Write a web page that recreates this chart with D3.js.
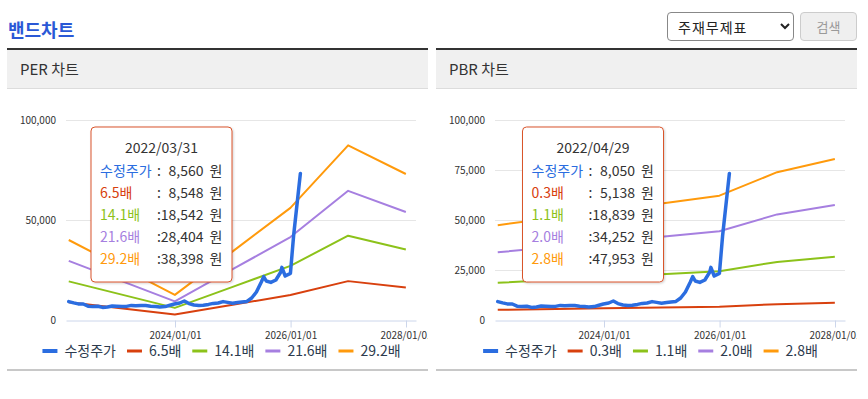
<!DOCTYPE html>
<html>
<head>
<meta charset="utf-8">
<script src="https://cdn.jsdelivr.net/npm/d3@7"></script>
<style>
  body { margin: 0; background: #fff; font-family: "Noto Sans CJK KR", sans-serif; }
  #wrap { position: relative; width: 868px; height: 399px; overflow: hidden; }
  #chart { position: absolute; left: 0; top: 0; }
  select {
    position: absolute; left: 667px; top: 12px; width: 127px; height: 29px;
    border: 1px solid #888; border-radius: 4px; background: #fff;
    font-family: "Noto Sans CJK KR", sans-serif; font-size: 14px; color: #222; padding-left: 6px;
    letter-spacing: 1px;
  }
  button {
    position: absolute; left: 800px; top: 12px; width: 57px; height: 29px;
    border: 1px solid #ccc; border-radius: 4px; background: #efefef;
    font-family: "Noto Sans CJK KR", sans-serif; font-size: 13px; color: #999;
  }
</style>
</head>
<body>
<div id="wrap">
  <svg id="chart" width="868" height="399"></svg>
  <select><option>주재무제표</option></select>
  <button disabled>검색</button>
</div>
<script>
// 수정주가 (same price series in both charts)
var priceDates = ["2022-02-28","2022-03-31","2022-04-29","2022-05-31","2022-06-30","2022-07-29","2022-08-31",
  "2022-09-30","2022-10-31","2022-11-30","2022-12-29","2023-01-31","2023-02-28","2023-03-31","2023-04-28",
  "2023-05-31","2023-06-30","2023-07-31","2023-08-31","2023-09-27","2023-10-31","2023-11-30","2023-12-28",
  "2024-01-31","2024-02-29","2024-03-29","2024-04-30","2024-05-31","2024-06-28","2024-07-31","2024-08-30",
  "2024-09-30","2024-10-31","2024-11-29","2024-12-30","2025-01-31","2025-02-28","2025-03-31","2025-04-30",
  "2025-05-30","2025-06-30","2025-07-15","2025-07-31","2025-08-29","2025-09-30","2025-10-31","2025-11-07",
  "2025-11-28","2025-12-31","2026-01-20","2026-03-04"];
var priceValues = [9200,8560,8050,8000,6900,6700,6900,
  6300,6500,7000,6900,6700,6800,7300,7100,
  7300,7200,6900,6700,6500,6700,7400,8000,
  8500,9500,8200,7500,7300,7400,7800,8300,
  8500,9200,8800,8400,8700,9000,9300,11000,
  14000,19000,21700,19500,18800,20000,24000,26300,
  22000,23300,42000,73300];

// band dates (yearly estimates)
var bandDates = ["2022-02-28","2023-12-31","2024-12-31","2025-12-31","2026-12-31","2027-12-31"];

// PER bands
var perNames = ["6.5배","14.1배","21.6배","29.2배"];
var per6_5  = [8905, 2795, 7640, 12480, 19435, 16250];
var per14_1 = [19317, 6060, 16570, 27070, 42160, 35250];
var per21_6 = [29592, 9290, 25380, 41470, 64580, 54000];
var per29_2 = [40004, 12560, 34310, 56060, 87310, 73000];

// PBR bands
var pbrNames = ["0.3배","1.1배","2.0배","2.8배"];
var pbr0_3 = [5080, 5820, 6240, 6660, 7920, 8625];
var pbr1_1 = [18620, 21340, 22880, 24420, 29040, 31625];
var pbr2_0 = [33860, 38800, 41600, 44400, 52800, 57500];
var pbr2_8 = [47400, 54320, 58240, 62160, 73920, 80500];

// tooltips
var perTipDate = "2022/03/31";
var perTipValues = [8560, 8548, 18542, 28404, 38398];
var pbrTipDate = "2022/04/29";
var pbrTipValues = [8050, 5138, 18839, 34252, 47953];

// axes
var perYTicks = [0, 50000, 100000];
var pbrYTicks = [0, 25000, 50000, 75000, 100000];
var xTickLabels = ["2024/01/01", "2026/01/01", "2028/01/01"];

var colors = ["#2b6de0", "#d8400e", "#8cc21a", "#a67fe0", "#ff9a0c"];
var priceName = "수정주가";

var parse = d3.timeParse("%Y-%m-%d");
var parseTick = d3.timeParse("%Y/%m/%d");
var svg = d3.select("#chart");

var defs = svg.append("defs");
var shadow = defs.append("filter").attr("id", "shadow").attr("x", "-10%").attr("y", "-10%").attr("width", "130%").attr("height", "130%");
shadow.append("feDropShadow").attr("dx", 1).attr("dy", 1).attr("stdDeviation", 1.2)
  .attr("flood-color", "#000").attr("flood-opacity", 0.18);

svg.append("text")
  .attr("x", 8).attr("y", 37)
  .attr("font-size", 18).attr("font-weight", "bold")
  .attr("fill", "#2a58d6")
  .text("밴드차트");

function drawPanel(px, id, title, bandNames, bands, yTicks, tipX, tipDate, tipValues) {
  var w = 421;
  defs.append("clipPath").attr("id", "clip" + id)
    .append("rect").attr("x", 0).attr("y", 0).attr("width", w).attr("height", 399);

  var g = svg.append("g")
    .attr("transform", "translate(" + px + ",0)")
    .attr("clip-path", "url(#clip" + id + ")");

  g.append("rect").attr("x", 0).attr("y", 50).attr("width", w).attr("height", 38).attr("fill", "#f0f0f0");
  g.append("rect").attr("x", 0).attr("y", 48).attr("width", w).attr("height", 2).attr("fill", "#333");
  g.append("rect").attr("x", 0).attr("y", 88).attr("width", w).attr("height", 1).attr("fill", "#dcdcdc");
  g.append("rect").attr("x", 0).attr("y", 369).attr("width", w).attr("height", 2).attr("fill", "#c8c8c8");
  g.append("text").attr("x", 13).attr("y", 75).attr("font-size", 15).attr("fill", "#333").text(title);

  var x = d3.scaleTime()
    .domain([parseTick(xTickLabels[0]), parseTick(xTickLabels[2])])
    .range([168, 399]);
  x.domain([x.invert(59), x.invert(409)]).range([59, 409]);

  var y = d3.scaleLinear().domain([0, 100000]).range([320, 120]);

  // gridlines
  g.selectAll(".grid")
    .data(yTicks.filter(function(d) { return d > 0; }))
    .enter().append("line")
    .attr("x1", 59).attr("x2", 409)
    .attr("y1", function(d) { return y(d) + 0.5; })
    .attr("y2", function(d) { return y(d) + 0.5; })
    .attr("stroke", "#e6e6e6").attr("stroke-width", 1);

  var yAxis = g.append("g")
    .attr("transform", "translate(59,0)")
    .call(d3.axisLeft(y).tickValues(yTicks).tickFormat(d3.format(",")).tickSize(0).tickPadding(10));
  yAxis.select(".domain").remove();
  yAxis.selectAll("text").attr("font-size", 10).attr("fill", "#333")
    .attr("font-family", "'Noto Sans CJK KR', sans-serif");

  var xAxis = g.append("g")
    .attr("transform", "translate(0,320.5)")
    .call(d3.axisBottom(x).tickValues(xTickLabels.map(parseTick))
      .tickFormat(d3.timeFormat("%Y/%m/%d")).tickSizeInner(7).tickSizeOuter(0).tickPadding(4));
  xAxis.select(".domain").attr("stroke", "#ccd6eb");
  xAxis.selectAll(".tick line").attr("stroke", "#ccd6eb");
  xAxis.selectAll("text").attr("font-size", 10).attr("fill", "#333")
    .attr("font-family", "'Noto Sans CJK KR', sans-serif");

  var line = d3.line()
    .x(function(d) { return x(d.date); })
    .y(function(d) { return y(d.value); });

  var bandDateObjs = bandDates.map(parse);
  bands.forEach(function(vals, i) {
    var pts = vals.map(function(v, j) { return { date: bandDateObjs[j], value: v }; });
    g.append("path").datum(pts)
      .attr("d", line)
      .attr("fill", "none")
      .attr("stroke", colors[i + 1])
      .attr("stroke-width", 2)
      .attr("stroke-linejoin", "round");
  });

  var pricePts = priceValues.map(function(v, j) { return { date: parse(priceDates[j]), value: v }; });
  g.append("path").datum(pricePts)
    .attr("d", line)
    .attr("fill", "none")
    .attr("stroke", colors[0])
    .attr("stroke-width", 3.5)
    .attr("stroke-linejoin", "round")
    .attr("stroke-linecap", "round");

  // legend
  var names = [priceName].concat(bandNames);
  var leg = g.append("g");
  var cx = 0;
  names.forEach(function(n, i) {
    leg.append("line")
      .attr("x1", cx).attr("x2", cx + 15)
      .attr("y1", 351).attr("y2", 351)
      .attr("stroke", colors[i]).attr("stroke-width", i == 0 ? 4 : 3);
    var t = leg.append("text")
      .attr("x", cx + 22).attr("y", 356)
      .attr("font-size", 14).attr("fill", "#2d3b4e")
      .text(n);
    cx += 22 + t.node().getComputedTextLength() + 11;
  });
  var legW = cx - 11;
  leg.attr("transform", "translate(" + (w / 2 + 4 - legW / 2) + ",0)");

  // tooltip
  var tip = g.append("g").attr("transform", "translate(" + tipX + ",126.5)");
  tip.append("rect")
    .attr("x", 0.5).attr("y", 0.5).attr("width", 141).attr("height", 155).attr("rx", 4)
    .attr("fill", "#fff").attr("stroke", "#d9552c").attr("stroke-width", 1)
    .attr("filter", "url(#shadow)");
  tip.append("text")
    .attr("x", 71).attr("y", 26.5).attr("text-anchor", "middle")
    .attr("font-size", 14).attr("fill", "#333")
    .text(tipDate);
  names.forEach(function(n, i) {
    var ty = 49 + i * 22;
    tip.append("text").attr("x", 9.5).attr("y", ty).attr("font-size", 14).attr("fill", colors[i]).text(n);
    tip.append("text").attr("x", 66.5).attr("y", ty).attr("font-size", 14).attr("fill", "#333").text(":");
    tip.append("text").attr("x", 113).attr("y", ty).attr("text-anchor", "end")
      .attr("font-size", 14).attr("fill", "#333").text(d3.format(",")(tipValues[i]));
    tip.append("text").attr("x", 119).attr("y", ty).attr("font-size", 14).attr("fill", "#333").text("원");
  });
}

drawPanel(7, "per", "PER 차트", perNames, [per6_5, per14_1, per21_6, per29_2], perYTicks, 83.5, perTipDate, perTipValues);
drawPanel(436, "pbr", "PBR 차트", pbrNames, [pbr0_3, pbr1_1, pbr2_0, pbr2_8], pbrYTicks, 86, pbrTipDate, pbrTipValues);
</script>
</body>
</html>
